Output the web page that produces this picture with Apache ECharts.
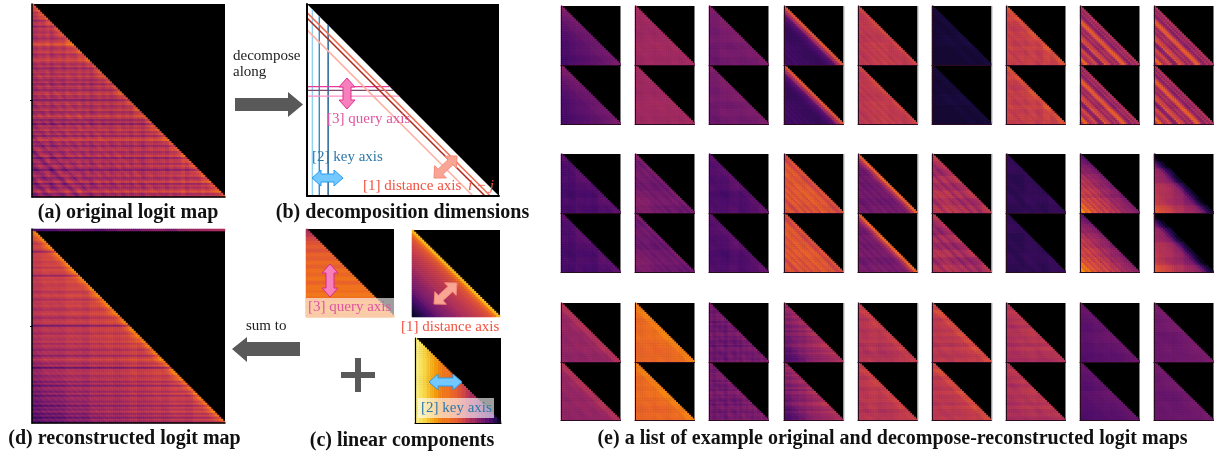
<!DOCTYPE html>
<html><head><meta charset="utf-8">
<style>html,body{margin:0;padding:0;background:#fff}#c{width:1217px;height:455px}</style>
<script src="https://cdn.jsdelivr.net/npm/echarts@6/dist/echarts.min.js"></script>
</head><body><div id="c"></div>
<script>
// Colour scale
const infernoStops = ['#000004','#1b0c41','#4a0c6b','#781c6d','#a52c60','#cf4446','#ed6925','#fb9b06','#f7d13d','#fcffa4'];

// Large maps: level + per-query, per-distance (hypotenuse to corner), per-key estimates, read by eye
const rowsA = [4,1,6,-3,4,0,5,-7,2,4,-8,3,1,-2,4,1,-4,2,6,14,3,-1,3,7,-3,1,5,9,2,-3,4,-6,1,4,-2,6,1,-4,3,-7,4,1,-5,4,7,-1,2,-9,3,5,-3,1,6,-4,1,9,3,-6,2,-10,4,1,7,-2,4,-5,6,11,-1,2,-6,3,5,-3,1,7,-8,2,4,-3,6,1,-10,3,2,6,-4,1,10,-6,3,-2,5,12,-3,1];
const diagA = [12,7,4,3,2,3,1,2,3,1,0,2,3,1,2,0,-1,2,1,0,-2,3,1,-1,0,2,-3,-1,1,-2,0,1,-4,-2,0,-5,-1,1,-3,-8,-3,0,-2,-11,-5,-1,1,-4,-12,-6,-2,0,-6,-13,-7,-3,-1,-9,-13,-6,-3,-8,-11,-13];
const colsA = [-2,1,-1,2,-3,0,1,-2,2,0,-1,2,-2,1,-3,0,2,-1,1,-2,0,2,-1,1,-2,2,0,-3,1,2,-1,0,1,-2,2,-1,0,3,-2,1,0,-1,2,-1,1,0,-2,2];
const rowsD = [3,5,4,2,5,2,-3,3,4,1,-12,2,3,2,4,0,2,4,-2,5,3,2,-10,4,2,5,2,1,3,4,-2,2,6,2,-3,4,2,5,1,-2,3,6,2,-4,2,5,3,-14,2,4,2,-2,5,3,1,6,-2,4,2,-5,2,3,-7,2,8,2,-3,4,-15,2,3,5,-2,1,4,-6,2,-10,3,2,-5,4,-8,2,1,-4,3,-9,2,-3,5,-6,1,-9,2,-5];
const diagD = [20,12,8,6,5,5,4,4,3,4,3,3,2,3,2,1,2,1,1,0,2,0,1,-1,1,-1,0,-2,0,-2,-1,-3,-2,-4,-2,-5,-3,-6,-3,-7,-5,-8,-5,-10,-7,-11,-8,-12,-9,-14,-10,-15,-12,-16,-13,-18,-14,-19,-15,-20,-17,-21,-18,-21];
const colsD = [-1,1,0,-1,1,0,-2,1,0,1,-1,0,2,-1,0,1,-1,1,0,-2,1,0,1,-1];
const topStripD = [22,24,27,30,28,26,30,34,32,36,38,35,40,42,44,46];

// Linear components
const queryRows = [46,50,56,60,63,60,65,63,67,64,68,66,69,65,69,67,70,68,71,69,72,70];
const distanceDiag = [82,68,61,58,55,54,52,50,48,47,44,43,40,38,36,33,30,27,24,20,16,12,8,5];
const keyCols = [96,93,90,86,82,78,73,70,69,66,64,60,56,50,45,41,36,32,27,22,15,8];

// 27 example thumbnails, row by row: top = original, bottom = reconstructed
const thumbTopLevels = [28,43,33,20,50,9,52,44,44, 23,31,24,58,32,46,16,42,38, 40,66,32,40,48,50,47,28,31];
const thumbBottomLevels = [28,43,33,20,50,9,52,44,44, 23,30,24,58,33,44,16,44,38, 40,66,33,40,49,50,47,27,30];
const thumbDiag = [
 [4,3,1,0,-1,-2,-2,-3],
 [1,0,1,0,0,1,0,0],
 [2,1,0,0,1,0,-1,0],
 [40,26,13,5,2,0,-2,-2,-2,-1,-2,0,-2,1,-2,2,-1,2,0,2],
 [6,2,1,0,2,-1,3,0,2,-1,2,0,-2,2,-1,1],
 [1,0,1,0,0,0,0,0],
 [7,2,2,0,2,-1,1,2,-1,2,0,-1],
 [2,-7,4,-8,0,13,18,6,-6,2,-8,4,10,17,-3,-10,2,13,4,-4,7,19,4,-6],
 [2,-7,4,-8,0,13,18,6,-6,2,-8,4,10,17,-3,-10,2,13,4,-4,7,19,4,-6],
 [3,1,0,0,-1,0,-1,-1],
 [3,-1,2,-1,1,2,-1,2,0,3,2,4,3,5,3,2],
 [3,1,0,-1,0,0,-1,0],
 [1,-4,2,4,-1,3,6,-2,3,5,-1,4,-3,5,2,-4,3,6,0,3],
 [32,16,5,0,1,-2,1,-2,2,-1,2,0,-2,2,0,1],
 [4,1,-1,-5,2,1,-6,3,2,-4,2,4,-2,4,2,-4,3,5,1,2],
 [1,1,0,1,-1,1,0,-1],
 [-8,-6,-3,-5,0,-5,2,-2,5,-3,7,2,10,3,13,6,17,8,23,20],
 [-32,-24,-12,-4,-2,0,1,2,2,3,5,7,8,10,12,14],
 [7,2,0,1,-1,0,-1,0],
 [6,2,1,0,1,0,0,0],
 [2,0,-1,1,-1,1,-2,0,-1,-1],
 [4,2,1,0,0,-2,-5,-7,-8,-9],
 [5,2,1,0,1,-1,1,0],
 [7,2,1,0,1,-1,1,0],
 [3,2,0,1,0,-1,0,0],
 [2,1,0,0,-1,-1,-1,-2],
 [2,1,0,0,1,0,0,0]
];
const thumbRows = [
 [7,4,2,1,0,-1,-1,-2,-1,-1,-2,-1],
 [1,0,0,-1,0,1,0,0],
 [2,0,1,0,1,-1,0,-1],
 [0,0,1,0,0,1,0,0],
 [1,-1,1,0,-1,1,0,1],
 [0,0,0,1,0,0],
 [1,-1,2,0,-2,1,1,-1,2,-1,1,0],
 [0,0,1,0,1,0,2,2],
 [0,0,1,0,1,0,2,2],
 [1,-1,0,1,0,-1,1,0],
 [2,-1,1,0,-1,1,2,0],
 [1,-1,1,0,1,-1,0,1],
 [0,1,2,0,1,2,1,0],
 [0,1,-1,1,0,1,-1,1],
 [4,0,-3,2,-2,3,-2,2],
 [0,1,-1,0,1,0],
 [-12,-9,-6,-4,-1,1,0,3,1,4,5,6],
 [-8,-4,2,0,5,4,2,7],
 [1,0,1,0,1,0],
 [-1,0,-1,0,1,0,-1,0],
 [2,-2,1,-3,2,-1,2,-3,2,-2,1,-2,3,-1,2,-2,1,-3,2,0,-2,1,-1,2],
 [5,-1,6,2,-2,4,-1,3,2,-3,3,-4,2,-4,-1,-3,2,3,-2,-4,1,-3,-4,-2],
 [1,-1,2,0,-2,1,1,-1,1,0,2,-1,1,-2,0,1],
 [2,-2,3,1,-2,1,0,-1,2,-1,1,-2,2,0,-1,1],
 [1,-2,2,0,-1,1,-3,1,1,-1,1,-2,2,-1,0,-2],
 [1,0,-1,1,0,-1],
 [1,0,1,-1,0,0]
];
const thumbCols = [
 [-2,-1,0,0,1,1,2,3],
 [0,0,0,0],
 [-1,0,0,0,0,1],
 [0,0,0,0],
 [0,1,0,-1],
 [0,0,0,0],
 [1,-1,0,1,-1,2,-1,1],
 [1,0,0,0],
 [1,0,0,0],
 [0,-1,1,0,-1,1,0,1],
 [1,0,0,-1],
 [0,-1,1,-1,0,1],
 [0,0,0,0],
 [-1,0,0,0],
 [0,1,0,0,-1,0],
 [0,-1,1,0,-1,1,0],
 [4,3,1,-1,-3,-4],
 [4,3,1,-2,-3,-4],
 [0,0,0,0],
 [0,0,0,0],
 [1,-2,1,-1,1,-3,1,0,-2,1,-1,2,-1,1,-2,1,-1,2,-2,1],
 [-5,-3,-1,1,3,4,5,5],
 [0,1,-1,0,1,-1],
 [0,0,1,0],
 [0,1,0,0],
 [-1,0,0,1],
 [0,0,1,1]
];

// (b) decomposition guide lines, in percent of the map
const keyLineX = [2.8, 6.4, 11];
const keyLineColors = ['#8fd0f5','#2b8fd0','#13598f'];
const queryLineY = [43, 45, 48];
const queryLineColors = ['#e8389a','#7d4a70','#ff8fc5'];
const distLineOffset = [4.5, 7.3, 13.5];
const distLineColors = ['#ee7258','#ab2a1c','#fdb0a4'];

const pick = (list, t) => list[Math.min(list.length - 1, Math.floor(t * list.length))] || 0;
const cells = (n, level, rows, cols, diag, strip) => {
  const out = [];
  for (let q = 0; q < n; q++) for (let k = 0; k <= q; k++)
    out.push([k, q, level + pick(rows, q/n) + pick(cols, k/n) + pick(diag, (q-k)/n)]);
  if (strip) for (let k = 0; k < n; k++) { if (k > 0) out.push([k, 0, pick(strip, k/n)]); else out[0][2] = strip[0]; }
  return out;
};

const grids = [], xAxes = [], yAxes = [], series = [];
const heatIdx = [];
function addGrid(x0, x1, y0, y1) {
  const i = grids.length;
  grids.push({left:x0, top:y0, width:x1-x0, height:y1-y0, show:true, backgroundColor:'#000', borderWidth:0});
  return i;
}
function addMap(x0, x1, y0, y1, n, data, lineW, lineColor) {
  const i = addGrid(x0, x1, y0, y1);
  const cats = Array.from({length:n}, (_, j) => j);
  const line = {show:lineW > 0, lineStyle:{color:lineColor, width:lineW}};
  xAxes.push({gridIndex:i, z:20, type:'category', data:cats, position:'bottom', axisLine:line, axisTick:{show:false}, axisLabel:{show:false}, splitLine:{show:false}});
  yAxes.push({gridIndex:i, z:20, type:'category', data:cats, inverse:true, position:'left', axisLine:line, axisTick:{show:false}, axisLabel:{show:false}, splitLine:{show:false}});
  heatIdx.push(series.length);
  series.push({type:'heatmap', xAxisIndex:i, yAxisIndex:i, data, silent:true, animation:false, progressive:0, emphasis:{disabled:true}});
}

// Big maps
addMap(32, 225, 4, 197, 97, cells(97, 46, rowsA, colsA, diagA), 1.5, '#000');
addMap(32, 225, 229, 423, 97, cells(97, 48, rowsD, colsD, diagD, topStripD), 1.5, '#000');
// Components
addMap(306, 394, 229, 317, 44, cells(44, 0, queryRows, [0], [0]), 0, '#000');
addMap(412, 500, 230, 317, 44, cells(44, 0, [0], [0], distanceDiag), 0, '#000');
addMap(415, 501, 338, 423, 44, cells(44, 0, [0], keyCols, [0]), 1.2, '#000');
// Thumbs
const thumbX = [561,635,709,784,858,932,1006,1080,1154];
const thumbW = 59.5;
const thumbY = [[6,65,124],[154,213,272.5],[303,362,420.5]];
for (let r = 0; r < 3; r++) for (let c = 0; c < 9; c++) {
  const e = r*9 + c;
  addMap(thumbX[c], thumbX[c]+thumbW, thumbY[r][0], thumbY[r][1], 32, cells(32, thumbTopLevels[e], thumbRows[e], thumbCols[e], thumbDiag[e]), 1, '#2b0a20');
  addMap(thumbX[c], thumbX[c]+thumbW, thumbY[r][1], thumbY[r][2], 32, cells(32, thumbBottomLevels[e], thumbRows[e], thumbCols[e], thumbDiag[e]), 1, '#2b0a20');
}

// Panel (b): white triangle and guide lines on value axes
const b = addGrid(307, 499, 4, 196);
const bLine = {show:true, onZero:false, lineStyle:{color:'#000', width:2}};
xAxes.push({gridIndex:b, z:20, type:'value', min:0, max:100, position:'bottom', axisLine:bLine, axisTick:{show:false}, axisLabel:{show:false}, splitLine:{show:false}});
yAxes.push({gridIndex:b, z:20, type:'value', min:0, max:100, inverse:true, position:'left', axisLine:bLine, axisTick:{show:false}, axisLabel:{show:false}, splitLine:{show:false}});
const lineSeries = (data, color, w, extra) => Object.assign({type:'line', xAxisIndex:b, yAxisIndex:b, data, symbol:'none', silent:true, animation:false, lineStyle:{color, width:w}}, extra||{});
series.push({type:'custom', xAxisIndex:b, yAxisIndex:b, silent:true, animation:false, z:3, data:[[0,0]],
  renderItem:(p, api) => ({type:'polygon', shape:{points:[api.coord([0,0]), api.coord([100,100]), api.coord([0,100])]}, style:{fill:'#fff'}})});
keyLineX.forEach((x,i) => series.push(lineSeries([[x,x],[x,100]], keyLineColors[i], 1.4, {z:4})));
queryLineY.forEach((y,i) => series.push(lineSeries([[0,y],[y,y]], queryLineColors[i], 1.3, {z:4})));
distLineOffset.forEach((d,i) => series.push(lineSeries([[0,d],[100-d,100]], distLineColors[i], 1.6, {z:4})));

// Annotations
const g = [];
const T = (x, baseline, text, size, style, fill, align) => g.push({type:'text', z:110, silent:true, style:{x, y:baseline - 0.33*size, text, font:style+' '+size+'px "Liberation Serif","Times New Roman",serif', fill, textAlign:align||'left', textVerticalAlign:'middle'}});
const R = (x,y,w,h,fill,z) => g.push({type:'rect', z:z||100, silent:true, shape:{x,y,width:w,height:h}, style:{fill}});
const P = (pts, fill, stroke, z) => g.push({type:'polygon', z:z||105, silent:true, shape:{points:pts}, style:{fill, stroke:stroke||null, lineWidth:stroke?1:0}});
function dbl(x1,y1,x2,y2,fill,stroke,hw,sw,hl){
  const L=Math.hypot(x2-x1,y2-y1), ux=(x2-x1)/L, uy=(y2-y1)/L, nx=-uy, ny=ux;
  const pt=(a,b)=>[x1+ux*a+nx*b, y1+uy*a+ny*b];
  P([pt(0,0),pt(hl,hw),pt(hl,sw),pt(L-hl,sw),pt(L-hl,hw),pt(L,0),pt(L-hl,-hw),pt(L-hl,-sw),pt(hl,-sw),pt(hl,-hw)],fill,stroke);
}
// grey arrows
P([[235,98],[288,98],[288,92],[303,104.5],[288,117],[288,111],[235,111]],'#595959');
P([[300,342],[247,342],[247,337],[232,349],[247,362],[247,356],[300,356]],'#595959');
// plus
R(341,372,34,6,'#595959'); R(355,358,6,34,'#595959');
// translucent boxes
R(306,298,88,19,'rgba(255,255,255,0.62)');
R(418,398,76,20,'rgba(255,255,255,0.62)');
// small black ticks
R(30,100,2,1,'#000'); R(30,326,2,1,'#000');
// thin grey right edges on some thumbnails
[843.5,917.5,991.5].forEach(x => thumbY.forEach(rw => R(x, rw[0], 1, rw[2]-rw[0], '#b5b5b5')));
// double arrows
dbl(347,78,347,109,'#f77fbc','#e0338f',8,4,9);
dbl(312,178,343,178,'#72c8ff','#2a9df0',8,4,9);
dbl(434,178,457,156,'#f9a596','#f58b78',8.5,3.5,9);
dbl(330,264,330,297,'#f77fbc','#d62d8b',8,4,9);
dbl(434,304,457,283,'#f9a596','#f58b78',8.5,3.5,9);
dbl(429,382,462,382,'#72c8ff','#2a9df0',8,4,9);
// labels
T(233,61,'decompose',15,'','#222'); T(233,77,'along',15,'','#222');
T(246,331,'sum to',15,'','#222');
T(327,124,'[3] query axis',15,'','#e0569f');
T(312,162,'[2] key axis',15,'','#2f79a8');
T(363,191,'[1] distance axis',15,'','#f4513f');
T(468,191,'i \u2212 j',15,'italic','#f4513f');
T(308,312,'[3] query axis',15,'','#e0569f');
T(401,332,'[1] distance axis',15,'','#f4513f');
T(421,413,'[2] key axis',15,'','#2f79a8');
T(128,219,'(a) original logit map',20,'bold','#111','center');
T(402.5,219,'(b) decomposition dimensions',20,'bold','#111','center');
T(124.5,445,'(d) reconstructed logit map',20,'bold','#111','center');
T(402,447,'(c) linear components',20,'bold','#111','center');
T(892.5,445,'(e) a list of example original and decompose-reconstructed logit maps',20,'bold','#111','center');

const chart = echarts.init(document.getElementById('c'), null, {renderer:'canvas'});
chart.setOption({
  animation:false, backgroundColor:'#fff',
  grid:grids, xAxis:xAxes, yAxis:yAxes,
  visualMap:{show:false, type:'continuous', min:0, max:100, dimension:2, seriesIndex:heatIdx, inRange:{color:infernoStops}},
  series, graphic:{elements:g}
});
</script></body></html>
